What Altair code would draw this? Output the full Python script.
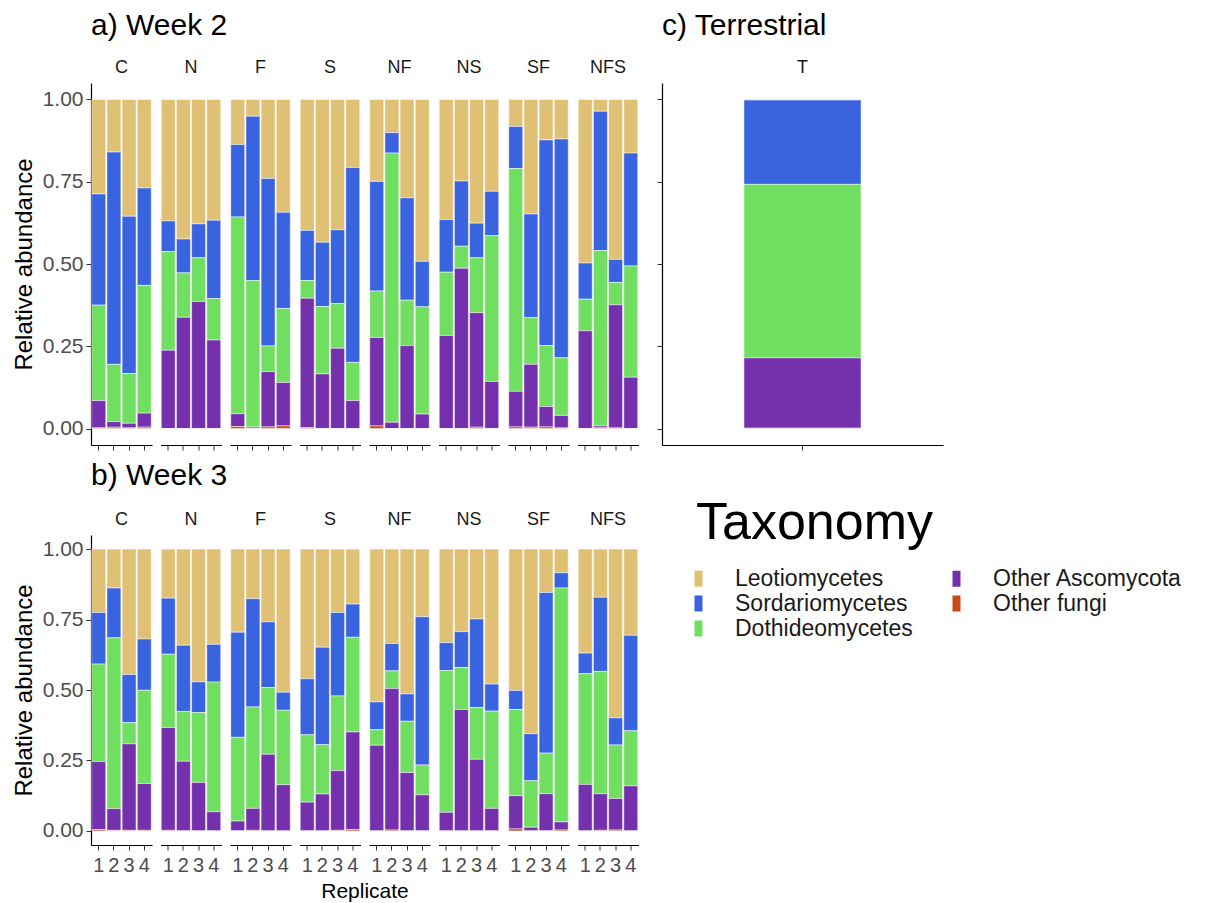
import altair as alt
import pandas as pd

taxa = ["Leotiomycetes", "Sordariomycetes", "Dothideomycetes", "Other Ascomycota", "Other fungi"]
taxa_colors = ["#E0C074", "#3A63E0", "#70DE60", "#7531AD", "#C84818"]
treatments = ["C", "N", "F", "S", "NF", "NS", "SF", "NFS"]
replicates = ["1", "2", "3", "4"]

# Week 2 (order: C1..C4, N1..N4, F, S, NF, NS, SF, NFS)
leo2 = [0.287, 0.160, 0.355, 0.269, 0.369, 0.424, 0.378, 0.367, 0.137, 0.051, 0.240, 0.343,
        0.398, 0.434, 0.396, 0.207, 0.249, 0.101, 0.299, 0.492, 0.365, 0.248, 0.376, 0.279,
        0.082, 0.348, 0.123, 0.120, 0.497, 0.036, 0.486, 0.163]
sor2 = [0.338, 0.645, 0.478, 0.296, 0.093, 0.103, 0.103, 0.238, 0.220, 0.499, 0.509, 0.292,
        0.152, 0.195, 0.224, 0.592, 0.333, 0.062, 0.311, 0.138, 0.160, 0.198, 0.105, 0.135,
        0.128, 0.315, 0.625, 0.665, 0.110, 0.423, 0.070, 0.343]
dot2 = [0.290, 0.174, 0.151, 0.388, 0.300, 0.135, 0.133, 0.126, 0.598, 0.445, 0.078, 0.225,
        0.054, 0.205, 0.136, 0.116, 0.141, 0.818, 0.138, 0.326, 0.192, 0.067, 0.167, 0.443,
        0.677, 0.142, 0.185, 0.175, 0.096, 0.533, 0.068, 0.338]
oas2 = [0.083, 0.017, 0.014, 0.043, 0.238, 0.338, 0.386, 0.269, 0.039, 0.004, 0.168, 0.132,
        0.393, 0.166, 0.244, 0.085, 0.269, 0.019, 0.252, 0.044, 0.283, 0.487, 0.348, 0.143,
        0.108, 0.191, 0.062, 0.038, 0.297, 0.006, 0.374, 0.156]
ofu2 = [0.002, 0.004, 0.002, 0.004, 0.0, 0.0, 0.0, 0.0, 0.006, 0.001, 0.005, 0.008,
        0.003, 0.0, 0.0, 0.0, 0.008, 0.0, 0.0, 0.0, 0.0, 0.0, 0.004, 0.0,
        0.005, 0.004, 0.005, 0.002, 0.0, 0.002, 0.002, 0.0]

# Week 3
leo3 = [0.225, 0.138, 0.445, 0.319, 0.174, 0.341, 0.471, 0.338, 0.295, 0.176, 0.258, 0.508,
        0.460, 0.348, 0.225, 0.195, 0.542, 0.335, 0.514, 0.240, 0.332, 0.293, 0.248, 0.479,
        0.502, 0.655, 0.154, 0.084, 0.369, 0.171, 0.599, 0.306]
sor3 = [0.183, 0.177, 0.171, 0.182, 0.199, 0.235, 0.109, 0.134, 0.373, 0.384, 0.233, 0.064,
        0.199, 0.346, 0.296, 0.118, 0.099, 0.097, 0.097, 0.526, 0.099, 0.127, 0.314, 0.096,
        0.067, 0.167, 0.570, 0.054, 0.073, 0.263, 0.096, 0.339]
dot3 = [0.346, 0.606, 0.075, 0.331, 0.260, 0.177, 0.248, 0.460, 0.297, 0.360, 0.237, 0.264,
        0.239, 0.175, 0.265, 0.336, 0.055, 0.063, 0.182, 0.106, 0.503, 0.149, 0.184, 0.345,
        0.306, 0.165, 0.144, 0.830, 0.393, 0.434, 0.190, 0.195]
oas3 = [0.241, 0.077, 0.307, 0.166, 0.365, 0.247, 0.172, 0.068, 0.035, 0.078, 0.272, 0.164,
        0.102, 0.131, 0.212, 0.346, 0.304, 0.502, 0.207, 0.128, 0.066, 0.431, 0.254, 0.080,
        0.118, 0.013, 0.132, 0.029, 0.165, 0.130, 0.112, 0.160]
ofu3 = [0.005, 0.002, 0.002, 0.002, 0.002, 0.0, 0.0, 0.0, 0.0, 0.002, 0.0, 0.0,
        0.0, 0.0, 0.002, 0.005, 0.0, 0.003, 0.0, 0.0, 0.0, 0.0, 0.0, 0.0,
        0.007, 0.0, 0.0, 0.003, 0.0, 0.002, 0.003, 0.0]

# Terrestrial
terr_site = ["T"]
terr_vals = [0.002, 0.256, 0.527, 0.214, 0.001]


def long_df(series):
    rows = []
    for ti, vals in enumerate(series):
        for k, v in enumerate(vals):
            rows.append({
                "treatment": treatments[k // 4],
                "rep": replicates[k % 4],
                "taxon": taxa[ti],
                "ord": len(taxa) - ti,
                "value": v,
            })
    return pd.DataFrame(rows)


df2 = long_df([leo2, sor2, dot2, oas2, ofu2])
df3 = long_df([leo3, sor3, dot3, oas3, ofu3])
dfT = pd.DataFrame({
    "site": terr_site * len(taxa),
    "taxon": taxa,
    "ord": [len(taxa) - i for i in range(len(taxa))],
    "value": terr_vals,
})

color_scale = alt.Scale(domain=taxa, range=taxa_colors)
color_enc = alt.Color("taxon:N", scale=color_scale, title="Taxonomy",
                      legend=alt.Legend(orient="none", legendX=605, legendY=415, columns=2,
                                        symbolType="M-0.5,-1L0.5,-1L0.5,1L-0.5,1Z",
                                        symbolSize=256, symbolStrokeWidth=0, symbolOffset=-9,
                                        titleFontSize=52, titleFontWeight="normal",
                                        titleColor="black", titlePadding=17, titleLimit=600,
                                        labelFontSize=23, labelColor="#1A1A1A",
                                        labelOffset=25, columnPadding=39, rowPadding=1,
                                        labelLimit=400))

yscale = alt.Scale(domain=[-0.05, 1.05], nice=False, zero=False)
yvals = [0, 0.25, 0.5, 0.75, 1.0]
bar = dict(stroke="white", strokeWidth=0.5)


def title_of(text, dy):
    return alt.Title(text, anchor="start", frame="group", fontSize=30, fontWeight="normal",
                     color="black", offset=10, dy=dy)


def week_chart(df, title, show_labels, height, dy):
    base = alt.Chart(df).mark_bar(**bar).encode(
        x=alt.X("rep:O", sort=replicates,
                scale=alt.Scale(paddingInner=0.08, paddingOuter=0.05),
                axis=alt.Axis(labels=show_labels, title=None, labelAngle=0,
                              labelFontSize=20, labelPadding=5)),
        y=alt.Y("value:Q", stack="zero", scale=yscale,
                axis=alt.Axis(values=yvals, format=".2f", title="Relative abundance")),
        color=color_enc,
        order=alt.Order("ord:Q", sort="ascending"),
    ).properties(width=61, height=height)
    header = alt.Header(labelFontSize=18, labelColor="#1A1A1A", labelPadding=6,
                        title="Replicate" if show_labels else None,
                        titleOrient="bottom", labelOrient="top",
                        titleFontSize=21, titleFontWeight="normal", titleColor="black",
                        titlePadding=-4)
    return base.facet(
        column=alt.Facet("treatment:N", sort=treatments, header=header),
        spacing=8.5,
        title=title_of(title, dy),
    )


week2 = week_chart(df2, "a) Week 2", False, 362, -8)
week3 = week_chart(df3, "b) Week 3", True, 310, -10)

terr = alt.Chart(dfT).mark_bar(**bar).encode(
    x=alt.X("site:N", scale=alt.Scale(paddingInner=0.5, paddingOuter=0.35),
            axis=alt.Axis(labels=False, title=None)),
    y=alt.Y("value:Q", stack="zero", scale=yscale,
            axis=alt.Axis(values=yvals, labels=False, title=None)),
    color=color_enc,
    order=alt.Order("ord:Q", sort="ascending"),
).properties(width=281, height=362).facet(
    column=alt.Facet("site:N", header=alt.Header(labelFontSize=18, labelColor="#1A1A1A",
                                                 labelPadding=6, title=None)),
    title=title_of("c) Terrestrial", -8),
)

chart = alt.vconcat(
    alt.hconcat(week2, terr, spacing=17),
    week3,
    spacing=10,
).properties(
    padding={"left": 4, "top": 3, "right": 2, "bottom": 0},
).configure(
    font="Liberation Sans",
).configure_view(
    stroke=None,
).configure_axis(
    labelFontSize=21,
    labelColor="#4D4D4D",
    titleFontSize=24,
    titleFontWeight="normal",
    titleColor="black",
    domainColor="black",
    domainWidth=1.2,
    tickColor="#333333",
    tickSize=5,
    grid=False,
    labelPadding=3,
    titlePadding=6,
)

chart.save("out.html", embed_options={"renderer": "svg", "actions": False})
